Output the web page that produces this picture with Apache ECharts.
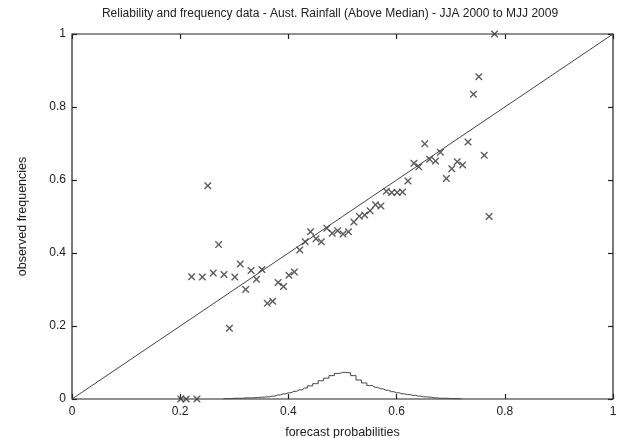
<!DOCTYPE html>
<html>
<head>
<meta charset="utf-8">
<script src="https://cdn.jsdelivr.net/npm/echarts@6/dist/echarts.min.js"></script>
<style>html,body{margin:0;padding:0;background:#fff}#c{width:623px;height:438px}</style>
</head>
<body>
<div id="c"></div>
<script>
const titleText = 'Reliability and frequency data - Aust. Rainfall (Above Median) - JJA 2000 to MJJ 2009';
const xName = 'forecast probabilities';
const yName = 'observed frequencies';

const forecastProb = [0.201,0.211,0.231,0.221,0.241,0.251,0.261,0.271,0.281,0.291,0.301,0.311,0.321,0.331,0.341,0.351,0.361,0.371,0.381,0.391,0.401,0.411,0.421,0.431,0.441,0.451,0.461,0.471,0.481,0.491,0.501,0.511,0.521,0.531,0.541,0.551,0.561,0.571,0.581,0.591,0.601,0.611,0.621,0.632,0.641,0.652,0.661,0.672,0.681,0.692,0.702,0.712,0.722,0.732,0.742,0.752,0.762,0.771,0.781];
const observedFreq = [0,0,0,0.335,0.334,0.584,0.345,0.423,0.341,0.194,0.334,0.370,0.300,0.352,0.328,0.355,0.262,0.268,0.319,0.308,0.339,0.348,0.408,0.431,0.458,0.439,0.431,0.468,0.454,0.461,0.452,0.458,0.485,0.501,0.504,0.516,0.532,0.529,0.569,0.566,0.566,0.567,0.597,0.646,0.636,0.699,0.657,0.652,0.676,0.604,0.631,0.650,0.641,0.704,0.835,0.883,0.668,0.500,1.0];

const histBins = [0.28,0.29,0.30,0.31,0.32,0.33,0.34,0.35,0.36,0.37,0.38,0.39,0.40,0.41,0.42,0.43,0.44,0.45,0.46,0.47,0.48,0.49,0.50,0.51,0.52,0.53,0.54,0.55,0.56,0.57,0.58,0.59,0.60,0.61,0.62,0.63,0.64,0.65,0.66,0.67,0.68,0.69,0.70,0.71,0.72];
const histFreq = [0.001,0.001,0.002,0.002,0.003,0.003,0.004,0.005,0.006,0.008,0.011,0.014,0.017,0.021,0.025,0.030,0.036,0.042,0.050,0.057,0.064,0.070,0.073,0.072,0.064,0.052,0.044,0.037,0.032,0.028,0.024,0.020,0.017,0.014,0.012,0.010,0.008,0.006,0.005,0.003,0.002,0.002,0.001,0.001,0];

const diagX = [0, 1];
const diagY = [0, 1];

const scatterData = forecastProb.map((x, i) => [x, observedFreq[i]]);
const histData = histBins.map((x, i) => [x, histFreq[i]]);
const diagData = diagX.map((x, i) => [x, diagY[i]]);

const starPath = 'path://M0,0 L1.4,0 L5,3.6 L8.6,0 L10,0 L10,1.4 L6.4,5 L10,8.6 L10,10 L8.6,10 L5,6.4 L1.4,10 L0,10 L0,8.6 L3.6,5 L0,1.4 Z M3.4,3.4 L6.6,3.4 L6.6,6.6 L3.4,6.6 Z';

const FONT = 'Liberation Sans, Arial, sans-serif';
function mkAxis(pos, showLabel, name, nameGap, margin) {
  return {
    type: 'value', min: 0, max: 1, interval: 0.2, position: pos,
    name: name || '', nameLocation: 'middle', nameGap: nameGap || 0,
    nameTextStyle: { color: '#222', fontSize: 12.5, fontFamily: FONT },
    axisLine: { show: false, onZero: false },
    axisTick: { show: true, inside: true, length: 5, lineStyle: { color: '#222', width: 1.2 } },
    axisLabel: { show: showLabel, margin: margin || 6, color: '#222', fontSize: 12, fontFamily: FONT,
      formatter: v => String(+v.toFixed(1)) },
    splitLine: { show: false }
  };
}

const chart = echarts.init(document.getElementById('c'), null, { renderer: 'canvas' });
chart.setOption({
  animation: false,
  backgroundColor: '#fff',
  title: {
    text: titleText, left: 325, top: 3, textAlign: 'center',
    textStyle: { fontSize: 12, fontWeight: 'normal', color: '#222', fontFamily: FONT }
  },
  grid: { left: 72, right: 10, top: 34, bottom: 39, containLabel: false, outerBoundsMode: 'none',
    show: true, borderColor: '#222', borderWidth: 1.2, backgroundColor: 'transparent' },
  xAxis: [ mkAxis('bottom', true, xName, 27, 7), mkAxis('top', false) ],
  yAxis: [ mkAxis('left', true, yName, 43, 6), mkAxis('right', false) ],
  series: [
    { type: 'line', xAxisIndex: 0, yAxisIndex: 0, data: diagData, symbol: 'none', silent: true,
      lineStyle: { color: '#444', width: 1 } },
    { type: 'line', xAxisIndex: 0, yAxisIndex: 0, data: histData, step: 'middle', symbol: 'none', silent: true,
      lineStyle: { color: '#444', width: 1 } },
    { type: 'scatter', xAxisIndex: 0, yAxisIndex: 0, data: scatterData, symbol: starPath, symbolSize: 7,
      itemStyle: { color: '#333' } }
  ]
});
</script>
</body>
</html>
